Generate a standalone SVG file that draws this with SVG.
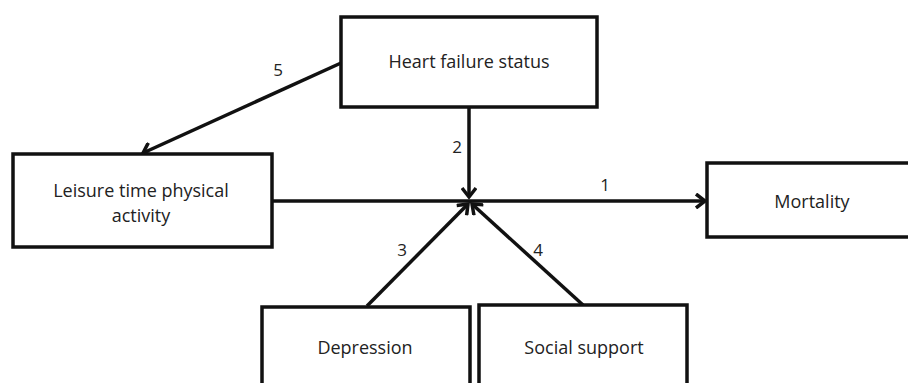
<svg xmlns="http://www.w3.org/2000/svg" width="908" height="383" viewBox="0 0 908 383">
<defs>
<style>
.box{fill:#fff;stroke:#111;stroke-width:3.5}
.lbl{font-family:"Open Sans","Liberation Sans",sans-serif;font-size:18px;fill:#222;text-anchor:middle}
.num{font-family:"Open Sans","Liberation Sans",sans-serif;font-size:17px;fill:#222;text-anchor:middle}
.edge{stroke:#111;stroke-width:3.5;fill:none;marker-end:url(#ah)}
</style>
<marker id="ah" markerUnits="userSpaceOnUse" markerWidth="16" markerHeight="16" refX="12" refY="8" orient="auto" viewBox="0 0 16 16">
<path d="M3,1 L12,8 L3,15" fill="none" stroke="#111" stroke-width="3.5" stroke-linejoin="miter"/>
</marker>
</defs>
<rect width="908" height="383" fill="#fff"/>
<g id="connectors">
<line class="edge" x1="341" y1="63" x2="143" y2="153"/>
<line class="edge" x1="469" y1="107" x2="469" y2="197"/>
<line class="edge" x1="272" y1="201" x2="705" y2="201"/>
<line class="edge" x1="367" y1="306" x2="468" y2="204"/>
<line class="edge" x1="583" y1="305" x2="472" y2="204"/>
<text class="num" x="278" y="76">5</text>
<text class="num" x="457" y="153">2</text>
<text class="num" x="605" y="191">1</text>
<text class="num" x="402" y="256">3</text>
<text class="num" x="538" y="256">4</text>
</g>
<g id="heart">
<rect class="box" x="341" y="17" width="256" height="90"/>
<text class="lbl" x="469" y="68">Heart failure status</text>
</g>
<g id="leisure">
<rect class="box" x="13" y="154" width="259" height="93"/>
<text class="lbl" x="141" y="197">Leisure time physical</text>
<text class="lbl" x="141" y="222">activity</text>
</g>
<g id="mortality">
<rect class="box" x="707" y="163" width="215" height="74"/>
<text class="lbl" x="812" y="208">Mortality</text>
</g>
<g id="depression">
<rect class="box" x="262" y="307" width="208" height="90"/>
<text class="lbl" x="365" y="354">Depression</text>
</g>
<g id="social">
<rect class="box" x="479" y="305" width="208" height="92"/>
<text class="lbl" x="584" y="354">Social support</text>
</g>
</svg>
